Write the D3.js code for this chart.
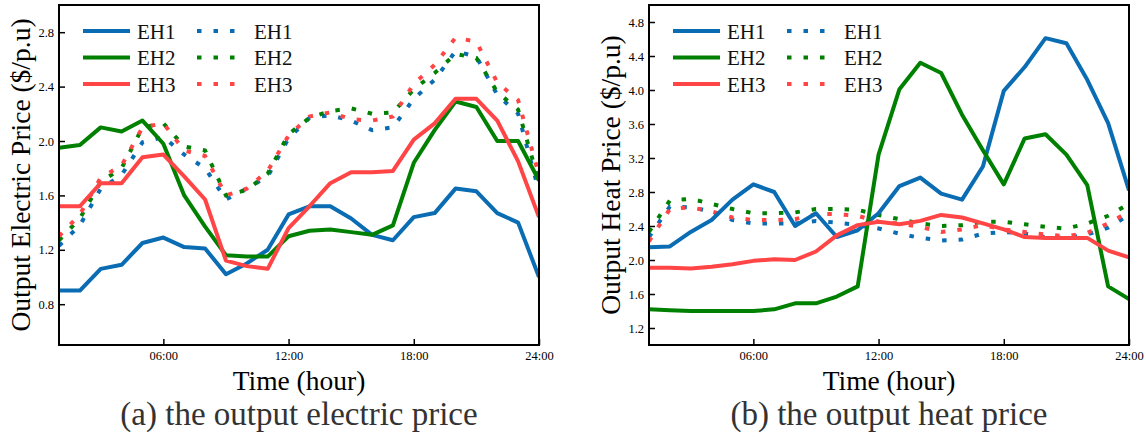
<!DOCTYPE html>
<meta charset="utf-8">
<style>
  body { margin: 0; background: #fff; }
  svg { display: block; font-family: "Liberation Serif", "Times New Roman", serif; }
</style>
<svg width="1146" height="437"></svg>
<script src="https://cdn.jsdelivr.net/npm/d3@7"></script>
<script>
// hours 1..24
var hours = d3.range(1, 25);
var seriesNames = ["EH1", "EH2", "EH3"];
var colors = ["#0A6CB2", "#008000", "#FF4545"];

// (a) electric price, solid lines
var elecEH1 = [0.90,0.90,1.06,1.09,1.25,1.29,1.22,1.21,1.02,1.10,1.20,1.46,1.52,1.52,1.43,1.31,1.27,1.44,1.47,1.65,1.63,1.47,1.40,1.00];
var elecEH2 = [1.95,1.97,2.10,2.07,2.15,1.98,1.60,1.37,1.16,1.15,1.15,1.30,1.34,1.35,1.33,1.31,1.38,1.84,2.08,2.29,2.25,2.00,2.00,1.71];
var elecEH3 = [1.52,1.52,1.69,1.69,1.88,1.90,1.74,1.57,1.12,1.08,1.06,1.36,1.52,1.69,1.77,1.77,1.78,2.01,2.13,2.31,2.31,2.15,1.85,1.44];
// (a) electric price, dotted lines
var elecEH1d = [1.23,1.38,1.65,1.75,1.99,2.03,1.90,1.80,1.57,1.65,1.74,2.02,2.17,2.19,2.15,2.08,2.10,2.31,2.45,2.66,2.62,2.34,2.20,1.63];
var elecEH2d = [1.27,1.43,1.70,1.80,2.10,2.13,1.96,1.93,1.60,1.64,1.76,2.05,2.17,2.22,2.24,2.20,2.21,2.38,2.50,2.64,2.61,2.36,2.23,1.70];
var elecEH3d = [1.30,1.46,1.73,1.82,2.10,2.13,1.93,1.89,1.60,1.65,1.78,2.04,2.18,2.21,2.16,2.15,2.18,2.42,2.56,2.76,2.73,2.43,2.30,1.75];

// (b) heat price, solid lines
var heatEH1 = [2.15,2.16,2.33,2.47,2.71,2.89,2.80,2.40,2.55,2.27,2.35,2.55,2.87,2.97,2.78,2.71,3.10,3.99,4.27,4.61,4.55,4.12,3.61,2.82];
var heatEH2 = [1.42,1.41,1.40,1.40,1.40,1.40,1.42,1.49,1.49,1.57,1.69,3.24,4.01,4.32,4.20,3.71,3.29,2.89,3.43,3.48,3.24,2.88,1.69,1.54];
var heatEH3 = [1.91,1.91,1.90,1.92,1.95,1.99,2.01,2.00,2.10,2.29,2.41,2.45,2.42,2.46,2.53,2.50,2.43,2.36,2.27,2.26,2.26,2.26,2.11,2.03];
// (b) heat price, dotted lines
var heatEH1d = [2.27,2.63,2.62,2.57,2.47,2.43,2.43,2.43,2.46,2.44,2.41,2.37,2.31,2.26,2.23,2.24,2.31,2.33,2.31,2.27,2.26,2.30,2.38,2.53];
var heatEH2d = [2.33,2.70,2.72,2.66,2.60,2.55,2.55,2.56,2.60,2.60,2.59,2.53,2.48,2.43,2.40,2.41,2.45,2.45,2.42,2.39,2.37,2.43,2.52,2.66];
var heatEH3d = [2.22,2.60,2.62,2.57,2.50,2.47,2.47,2.48,2.54,2.54,2.52,2.45,2.43,2.39,2.33,2.36,2.41,2.36,2.33,2.30,2.28,2.32,2.43,2.57];

var xTicks = [6, 12, 18, 24];
var xTickLabels = ["06:00", "12:00", "18:00", "24:00"];
var elecTicks = [0.8, 1.2, 1.6, 2.0, 2.4, 2.8];
var heatTicks = [1.2, 1.6, 2.0, 2.4, 2.8, 3.2, 3.6, 4.0, 4.4, 4.8];

var svg = d3.select("svg");

function drawPanel(opt) {
  var left = opt.left, top = 5, w = 480, h = 340;
  var g = svg.append("g").attr("transform", "translate(" + left + "," + top + ")");

  var x = d3.scaleLinear().domain([1, 24]).range([0, w]);
  var y = d3.scaleLinear().domain(opt.yDomain).range([h, 0]);

  // clip so lines stay in the frame
  g.append("clipPath").attr("id", opt.id)
    .append("rect").attr("width", w).attr("height", h);

  var line = d3.line()
    .x(function(d, i) { return x(hours[i]); })
    .y(function(d) { return y(d); });

  var lines = g.append("g").attr("clip-path", "url(#" + opt.id + ")");
  opt.dotted.forEach(function(s, i) {
    lines.append("path").datum(s)
      .attr("d", line)
      .attr("fill", "none")
      .attr("stroke", colors[i])
      .attr("stroke-width", 4)
      .attr("stroke-dasharray", "4.5,12");
  });
  opt.solid.forEach(function(s, i) {
    lines.append("path").datum(s)
      .attr("d", line)
      .attr("fill", "none")
      .attr("stroke", colors[i])
      .attr("stroke-width", 4)
      .attr("stroke-linejoin", "round");
  });

  // axes, ticks point inward
  var xAxis = g.append("g").attr("transform", "translate(0," + h + ")")
    .call(d3.axisBottom(x).tickValues(xTicks)
      .tickFormat(function(d, i) { return xTickLabels[i]; })
      .tickSizeInner(-6).tickSizeOuter(0).tickPadding(6));
  var yAxis = g.append("g")
    .call(d3.axisLeft(y).tickValues(opt.yTicks).tickFormat(d3.format(".1f"))
      .tickSizeInner(-6).tickSizeOuter(0).tickPadding(5));
  [xAxis, yAxis].forEach(function(a) {
    a.select(".domain").remove();
    a.selectAll(".tick line").attr("stroke", "#000").attr("stroke-width", 1.5);
    a.selectAll(".tick text").attr("font-family", "Liberation Serif, serif")
      .attr("font-size", 12.5).attr("fill", "#000");
  });

  g.append("rect").attr("width", w).attr("height", h)
    .attr("fill", "none").attr("stroke", "#000").attr("stroke-width", 2);

  // legend
  var lg = g.append("g").attr("transform", "translate(24,26)");
  seriesNames.forEach(function(n, i) {
    var row = lg.append("g").attr("transform", "translate(0," + (i * 26.5) + ")");
    row.append("line").attr("x1", 0).attr("x2", 47)
      .attr("stroke", colors[i]).attr("stroke-width", 4);
    row.append("text").attr("x", 54).attr("y", 7.5)
      .attr("font-size", 21).attr("fill", "#111").text(n);
    row.append("line").attr("x1", 114).attr("x2", 158)
      .attr("stroke", colors[i]).attr("stroke-width", 4)
      .attr("stroke-dasharray", "4.5,12");
    row.append("text").attr("x", 171).attr("y", 7.5)
      .attr("font-size", 21).attr("fill", "#111").text(n);
  });

  // axis titles
  svg.append("text")
    .attr("transform", "translate(" + (left - 29) + "," + (top + h / 2) + ") rotate(-90)")
    .attr("text-anchor", "middle").attr("font-size", 27.5).attr("fill", "#000")
    .text(opt.yLabel);
  svg.append("text")
    .attr("x", left + w / 2).attr("y", 390)
    .attr("text-anchor", "middle").attr("font-size", 27.5).attr("fill", "#000")
    .text("Time (hour)");
  svg.append("text")
    .attr("x", left + w / 2).attr("y", 425)
    .attr("text-anchor", "middle").attr("font-size", 33).attr("fill", "#333")
    .text(opt.caption);
}

drawPanel({
  id: "clipA", left: 59, yDomain: [0.5, 3.0], yTicks: elecTicks,
  solid: [elecEH1, elecEH2, elecEH3], dotted: [elecEH1d, elecEH2d, elecEH3d],
  yLabel: "Output Electric Price ($/p.u)", caption: "(a) the output electric price"
});
drawPanel({
  id: "clipB", left: 649, yDomain: [1.0, 5.0], yTicks: heatTicks,
  solid: [heatEH1, heatEH2, heatEH3], dotted: [heatEH1d, heatEH2d, heatEH3d],
  yLabel: "Output Heat Price ($/p.u)", caption: "(b) the output heat price"
});
</script>
